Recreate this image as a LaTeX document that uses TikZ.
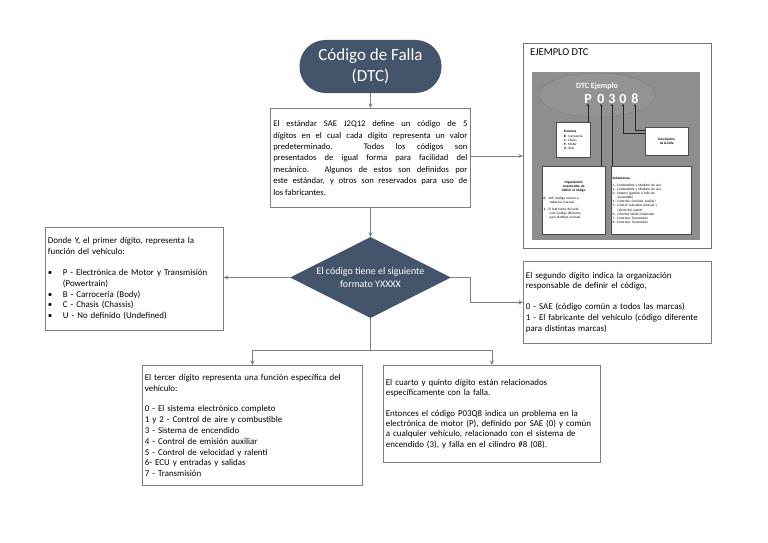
\documentclass[tikz,border=0pt]{standalone}
\usepackage{fontspec}
\setmainfont{Carlito}
\usetikzlibrary{positioning,arrows.meta,shapes.geometric,calc}
\definecolor{slateBlue}{HTML}{44546A}
\definecolor{lineGray}{HTML}{7F7F7F}
\definecolor{picGray}{HTML}{8E8E8E}
\definecolor{ovalGray}{HTML}{939393}

\begin{document}
\begin{tikzpicture}[x=1pt,y=-1pt,
      box/.style={draw=lineGray,line width=0.8pt,fill=white,inner sep=2.5pt,align=left,anchor=north west,font=\fontsize{8.9}{10.8}\selectfont},
      arr/.style={draw=lineGray,line width=0.8pt,-{Stealth[length=4.5pt,width=4pt]}},
      lin/.style={draw=lineGray,line width=0.8pt},
      tinybox/.style={draw=black!70,line width=0.3pt,fill=white,anchor=north west,inner sep=1.5pt,font=\fontsize{3.4}{4.1}\selectfont,align=left},
      digit/.style={text=white,inner sep=0pt,font=\fontsize{14}{14}\selectfont\bfseries},
      tip/.style={draw=black!85,line width=0.5pt,-{Stealth[length=2.5pt,width=2.5pt]}}
    ]
    \useasboundingbox (0,0) rectangle (768,543);

    % flow
    \node[fill=slateBlue,rounded corners=26pt,minimum width=142pt,minimum height=53pt,text=white,align=center,font=\fontsize{17}{20.5}\selectfont] (title) at (370.5,66.5) {Código de Falla\\(DTC)};

    \node[box,inner sep=3pt,text width=194pt,minimum height=99pt,align=justify,font=\fontsize{8.6}{11.4}\selectfont] (intro) at (270,108) {El estándar SAE J2Q12 define un código de 5\linebreak dígitos en el cual cada dígito representa un valor\linebreak predeterminado. Todos los códigos son\linebreak presentados de igual forma para facilidad del\linebreak mecánico. Algunos de estos son definidos por\linebreak este estándar, y otros son reservados para uso de\linebreak los fabricantes.};

    \node[diamond,aspect=2,fill=slateBlue,minimum width=161pt,minimum height=81pt,inner sep=0pt,text=white,align=center,font=\fontsize{10}{12.5}\selectfont] (formato) at (370.5,277.5) {El código tiene el siguiente\\formato YXXXX};

    \node[box,text width=173pt,minimum height=103pt] (primero) at (45,227) {Donde Y, el primer dígito, representa la\\función del vehículo:\\[10pt]
      \makebox[15pt][l]{\textbullet}P - Electrónica de Motor y Transmisión\\
      \hspace*{15pt}(Powertrain)\\
      \makebox[15pt][l]{\textbullet}B - Carrocería (Body)\\
      \makebox[15pt][l]{\textbullet}C - Chasis (Chassis)\\
      \makebox[15pt][l]{\textbullet}U - No definido (Undefined)};

    \node[box,text width=183pt,minimum height=82pt] (segundo) at (523,261) {El segundo dígito indica la organización\\responsable de definir el código,\\[10pt]
      0 - SAE (código común a todos las marcas)\\
      1 - El fabricante del vehículo (código diferente\\
      para distintas marcas)};

    \node[box,text width=215pt,minimum height=120pt] (tercero) at (142,365) {El tercer dígito representa una función específica del\\vehículo:\\[10pt]
      0 - El sistema electrónico completo\\
      1 y 2 - Control de aire y combustible\\
      3 - Sistema de encendido\\
      4 - Control de emisión auxiliar\\
      5 - Control de velocidad y ralentí\\
      6- ECU y entradas y salidas\\
      7 - Transmisión};

    \node[box,text width=212pt,minimum height=97pt,font=\fontsize{8.9}{10.4}\selectfont] (cuarto) at (383,365) {El cuarto y quinto dígito están relacionados\\específicamente con la falla.\\[10pt]
      Entonces el código P03Q8 indica un problema en la\\
      electrónica de motor (P), definido por SAE (0) y común\\
      a cualquier vehículo, relacionado con el sistema de\\
      encendido (3), y falla en el cilindro \#8 (08).};

    % example picture
    \node[draw=black!55,line width=0.8pt,fill=white,anchor=north west,minimum width=188pt,minimum height=205pt] (ejemplo) at (523,43) {};
    \node[anchor=north west,inner sep=0pt,font=\fontsize{10.5}{12}\selectfont] (ejtitle) at (530,48) {EJEMPLO DTC};
    \fill[picGray] (532,72) rectangle (700,240);
    \node[ellipse,draw=black!50,line width=0.4pt,fill=ovalGray,minimum width=116pt,minimum height=44pt] (oval) at (597,95) {};
    \node[text=white,inner sep=0pt,font=\fontsize{8}{9}\selectfont\bfseries] (dtcname) at (597,86) {DTC Ejemplo};
    \foreach \d/\x [count=\i] in {P/588,0/601,3/612,0/623,8/635}
      \node[digit] (d\i) at (\x,99) {\d};

    \node[tinybox,minimum width=34pt,minimum height=35pt] (sist) at (556,122) {\textbf{Sistemas}\\[1pt]\textbf{B}.- Carrocería\\\textbf{C}.- Chasis\\\textbf{P}.- Motor\\\textbf{U}.- Red};
    \node[tinybox,minimum width=43pt,minimum height=28pt,align=center] (desc) at (645,127) {\textbf{Descripción}\\\textbf{de la falla}};
    \node[tinybox,text width=60pt,minimum height=68pt] (org) at (542,166) {\makebox[60pt]{\textbf{Organización}}\\\makebox[60pt]{\textbf{responsable de}}\\\makebox[60pt]{\textbf{definir el código}}\\[4pt]
      \textbf{0} - SAE (código común a\\\hspace*{6pt}todas las marcas)\\[3pt]
      \textbf{1} - El fabricante del vehí-\\\hspace*{6pt}culo (código diferente\\\hspace*{6pt}para distintas marcas)};
    \node[tinybox,text width=77pt,minimum height=68pt] (sub) at (611,166) {\textbf{Subsistemas}\\[3pt]
      1.- Combustible y Medidor de aire\\
      2.- Combustible y Medidor de aire\\
      3.- Sistema (gestión o fallo de\\\hspace*{5pt}encendido)\\
      4.- Controles (emisión auxiliar)\\
      5.- Control velocidad vehículo y\\\hspace*{5pt}ralentí del ralentí\\
      6.- Circuitos Salida Ordenador\\
      7.- Controles Transmisión\\
      8.- Controles Transmisión};

    \draw[tip] (sist.north -| d1) -- (d1.south);
    \draw[tip] (org.north -| d2) -- (d2.south);
    \draw[tip] (sub.north -| d3) -- (d3.south);
    \draw[tip] ([yshift=-6pt]desc.north west) -| (d4.south);
    \draw[tip] ([yshift=-3pt]desc.north west) -| (d5.south);

    % connectors
    \draw[arr] (title) -- (intro);
    \draw[arr] ([yshift=2pt]intro.east) -- ([yshift=2pt]intro.east -| ejemplo.west);
    \draw[arr] (intro) -- (formato);
    \draw[arr] (formato.west) -- (formato.west -| primero.east);
    \draw[arr] (formato.east) -- ++(19,0) |- (segundo.west);
    \draw[lin] (formato.south) -- ++(0,32) coordinate (split);
    \draw[arr] (split) -| (tercero.north);
    \draw[arr] (split) -| (cuarto.north);
  \end{tikzpicture}
\end{document}
